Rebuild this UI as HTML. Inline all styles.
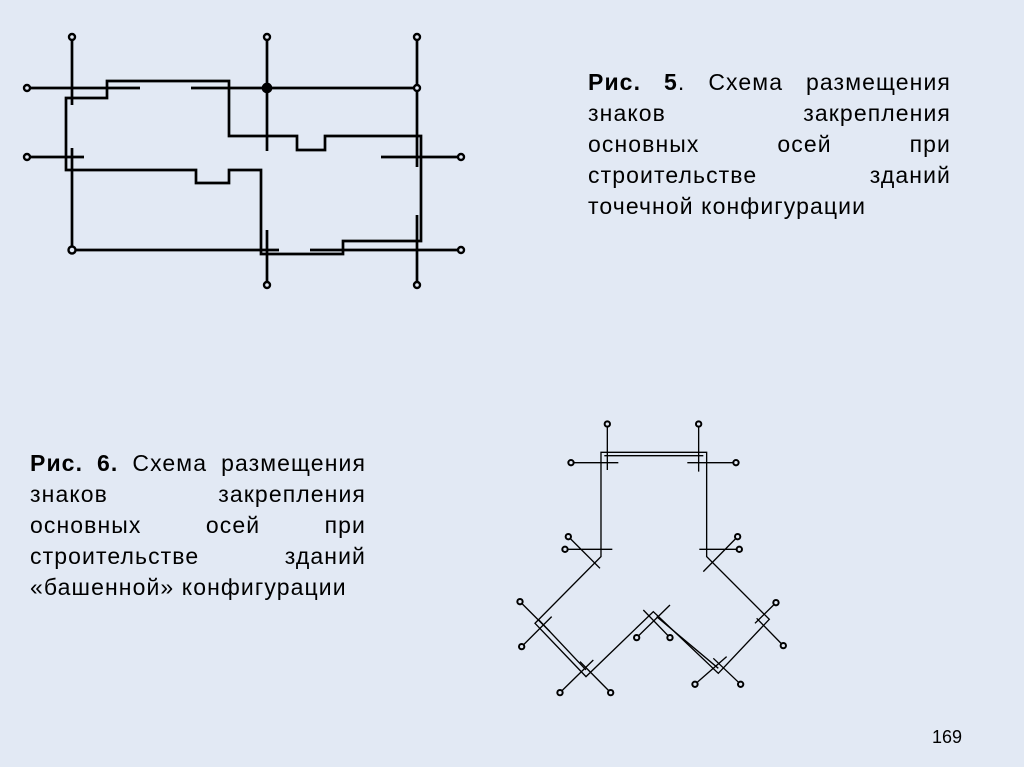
<!DOCTYPE html>
<html><head><meta charset="utf-8"><style>
body{margin:0;width:1024px;height:767px;background:#e2e9f4;position:relative;overflow:hidden;font-family:"Liberation Sans",sans-serif;}
.t{position:absolute;font-size:23px;letter-spacing:1.1px;color:#000;}
.l{display:flex;justify-content:space-between;height:31px;line-height:31px;white-space:nowrap}
svg{position:absolute;left:0;top:0}
</style></head><body>
<svg width="1024" height="767" viewBox="0 0 1024 767">
<g stroke="#000" stroke-width="2.7" fill="none">
<path d="M72 37V105M72 148V250M267 37V151M267 230V285M417 37V167M417 215V285"/>
<path d="M27 88H140M191 88H417M27 157H84M381 157H461M72 250H279M310 250H461"/>
<path d="M66 98H107V81H229V136H297V150H325V136H421V241H343V254H261V170H229V183H196V170H66Z"/>
<g stroke-width="2.4" fill="#e2e9f4">
<circle cx="72" cy="37" r="3"/><circle cx="267" cy="37" r="3"/><circle cx="417" cy="37" r="3"/>
<circle cx="27" cy="88" r="3"/><circle cx="27" cy="157" r="3"/><circle cx="461" cy="157" r="3"/>
<circle cx="72" cy="250" r="3.5"/><circle cx="461" cy="250" r="3"/>
<circle cx="267" cy="285" r="3"/><circle cx="417" cy="285" r="3"/>
<circle cx="417" cy="88" r="3"/></g>
<circle cx="267" cy="88" r="4" fill="#000"/>
</g>
<g transform="translate(500,410) scale(0.3333)" stroke="#000" stroke-width="4" fill="none">
<path d="M303 127H620V440L808 628L655 790L460 605L258 800L105 640L303 440Z"/>
<path d="M313 137H610M115 628L258 780M470 620L655 775"/>
<path d="M322 42V180M213 158H355M596 42V185M562 158H708M195 418H337M598 418H718M205 380L300 475M713 380L610 485M60 575L150 665M65 710L155 620M180 848L280 750M332 848L240 755M410 683L510 585M510 683L430 600M585 823L680 740M722 823L640 745M828 578L765 640M850 707L770 625"/>
<g stroke-width="6" fill="#e2e9f4">
<circle cx="322" cy="42" r="8"/><circle cx="596" cy="42" r="8"/><circle cx="213" cy="158" r="8"/><circle cx="708" cy="158" r="8"/>
<circle cx="195" cy="418" r="8"/><circle cx="718" cy="418" r="8"/><circle cx="205" cy="380" r="8"/><circle cx="713" cy="380" r="8"/>
<circle cx="60" cy="575" r="8"/><circle cx="65" cy="710" r="8"/><circle cx="180" cy="848" r="8"/><circle cx="332" cy="848" r="8"/>
<circle cx="410" cy="683" r="8"/><circle cx="510" cy="683" r="8"/><circle cx="585" cy="823" r="8"/><circle cx="722" cy="823" r="8"/>
<circle cx="828" cy="578" r="8"/><circle cx="850" cy="707" r="8"/></g>
</g>
</svg>
<div class="t" style="left:588px;top:67px;width:363px">
<div class="l"><span><b>Рис.</b></span><span><b>5</b>.</span><span>Схема</span><span>размещения</span></div>
<div class="l"><span>знаков</span><span>закрепления</span></div>
<div class="l"><span>основных</span><span>осей</span><span>при</span></div>
<div class="l"><span>строительстве</span><span>зданий</span></div>
<div class="l"><span>точечной конфигурации</span></div>
</div>
<div class="t" style="left:30px;top:448px;width:336px">
<div class="l"><span><b>Рис.</b></span><span><b>6.</b></span><span>Схема</span><span>размещения</span></div>
<div class="l"><span>знаков</span><span>закрепления</span></div>
<div class="l"><span>основных</span><span>осей</span><span>при</span></div>
<div class="l"><span>строительстве</span><span>зданий</span></div>
<div class="l"><span>«башенной» конфигурации</span></div>
</div>
<div class="t" style="left:932px;top:727px;font-size:18px;letter-spacing:0">169</div>
</body></html>
